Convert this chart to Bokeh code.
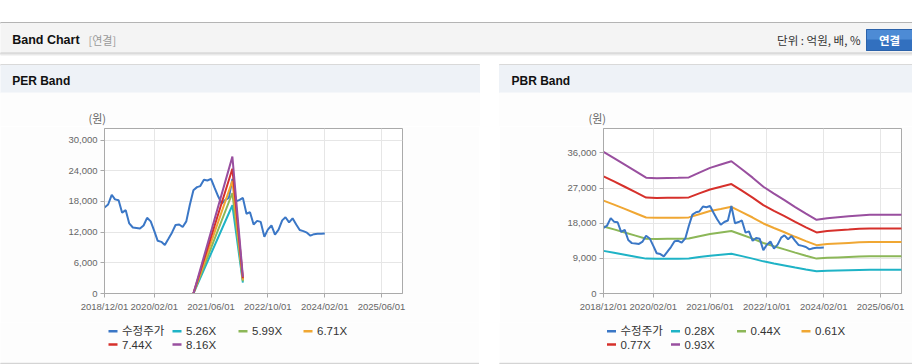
import pandas as pd
from datetime import datetime
from bokeh.plotting import figure
from bokeh.layouts import column, row
from bokeh.models import Range1d, FixedTicker, DatetimeTickFormatter, NumeralTickFormatter, Spacer
from bokeh.core.properties import value
from bokeh.embed import file_html
from bokeh.resources import INLINE

# ---------------- data ----------------
price_dates = pd.date_range("2018-12-01", periods=63, freq="MS")
price = [16800, 17400, 19300, 18400, 18250, 15800, 16300, 13700, 12900, 12800,
         12700, 13300, 14800, 14100, 12200, 10300, 10100, 9500, 10700, 11900,
         13400, 13500, 13000, 14100, 17300, 20200, 20800, 21000, 22250, 22100,
         22400, 20700, 19000, 17600, 18300, 18700, 22400, 18000, 18300, 18700,
         15600, 15900, 13500, 14200, 14000, 11100, 12500, 13300, 11500, 12500,
         14300, 14900, 13900, 14700, 13500, 12400, 12200, 11900, 11300, 11600,
         11700, 11700, 11750]

eps_dates = pd.to_datetime(["2021-01-01", "2021-12-01", "2022-03-01"])
eps = [0, 3280, 400]
per_multiples = [5.26, 5.99, 6.71, 7.44, 8.16]

bps_dates = pd.date_range("2018-12-01", periods=29, freq="3MS")
bps = [38980, 37300, 35500, 33700, 31900, 31750, 31800, 31850, 31950, 33300,
       34600, 35500, 36400, 34200, 31900, 29400, 27500, 25700, 23800, 22000,
       20300, 20750, 21000, 21250, 21500, 21650, 21650, 21650, 21650]
pbr_multiples = [0.28, 0.44, 0.61, 0.77, 0.93]

price_name = "수정주가"
per_names = ["5.26X", "5.99X", "6.71X", "7.44X", "8.16X"]
pbr_names = ["0.28X", "0.44X", "0.61X", "0.77X", "0.93X"]

x_tick_dates = ["2018-12-01", "2020-02-01", "2021-06-01", "2022-10-01", "2024-02-01", "2025-06-01"]
per_y_ticks = [0, 6000, 12000, 18000, 24000, 30000]
pbr_y_ticks = [0, 9000, 18000, 27000, 36000]

# ---------------- styles ----------------
BLUE = "#3b77c6"
BAND_COLORS = ["#1fb3c6", "#8cb758", "#f0a733", "#d6302b", "#994f9f"]
LATIN = "'Liberation Sans', 'Noto Sans CJK KR'"
KR = "'Noto Sans CJK KR'"
PANEL_BG = "#fdfdfd"

X0 = datetime(2018, 12, 1)
X1 = datetime(2025, 11, 28)

W_L, GAP, W_R = 479, 20, 413
H_TOP, H_CH, H_LEG = 126, 196, 42


def base_fig(w, h):
    f = figure(width=w, height=h, x_range=Range1d(0, w), y_range=Range1d(h, 0),
               output_backend="svg", toolbar_location=None, min_border=0,
               x_axis_type=None, y_axis_type=None)
    f.outline_line_color = None
    f.grid.visible = False
    f.background_fill_color = "white"
    f.border_fill_color = "white"
    return f


# ---------------- header ----------------
H = base_fig(912, H_TOP)
H.quad(left=[-5], right=[917], top=[22], bottom=[23], color="#b4b4b4")
H.quad(left=[-5], right=[917], top=[23], bottom=[52.5], color="#f4f4f4")
H.quad(left=[-5], right=[917], top=[52.5], bottom=[53.5], color="#cdcdcd")
H.quad(left=[-5], right=[917], top=[53.5], bottom=[54.5], color="#e9e9e9")
for l, r in [(-5, 479), (499, 917)]:
    H.quad(left=[l], right=[r], top=[64], bottom=[65], color="#d9d9d9")
    H.quad(left=[l], right=[r], top=[65], bottom=[92.5], color="#eef2f7")
    H.quad(left=[l], right=[r], top=[92.5], bottom=[H_TOP + 1], color=PANEL_BG)
# button
H.quad(left=[866], right=[917], top=[29], bottom=[39.5], color="#4d8bd5")
H.quad(left=[866], right=[917], top=[39.5], bottom=[50], color="#3270bf")
H.quad(left=[866], right=[917], top=[29], bottom=[50], fill_color=None, line_color="#2b62aa")
H.text(x=[11.7], y=[39], text=["Band Chart"], text_font=value("Liberation Sans"),
       text_font_style="bold", text_font_size=value("12.5px"), text_color="#111111",
       text_baseline="middle")
H.text(x=[88], y=[39], text=["[연결]"], text_font=value(KR), text_font_size=value("11px"),
       text_color="#999999", text_baseline="middle")
H.text(x=[860], y=[39], text=["단위 : 억원, 배, %"], text_font=value(KR),
       text_font_size=value("11.5px"), text_color="#333333", text_baseline="middle",
       text_align="right")
H.text(x=[889], y=[39.5], text=["연결"], text_font=value(KR), text_font_style="bold",
       text_font_size=value("11.5px"), text_color="white", text_baseline="middle",
       text_align="center")
H.text(x=[11.7, 511], y=[80, 80], text=["PER Band", "PBR Band"], text_font=value("Liberation Sans"),
       text_font_style="bold", text_font_size=value("12px"), text_color="#111111",
       text_baseline="middle")
H.text(x=[88, 588], y=[117.5, 117.5], text=["(원)", "(원)"], text_font=value(KR),
       text_font_size=value("11px"), text_color="#666666", text_baseline="middle")


# ---------------- charts ----------------
def chart(w, left, right, frame_h, ymax, yticks):
    top = 2
    p = figure(width=w, height=H_CH, x_axis_type="datetime", x_range=Range1d(X0, X1),
               y_range=Range1d(0, ymax), output_backend="svg", toolbar_location=None,
               min_border_left=left, min_border_right=right, min_border_top=top,
               min_border_bottom=H_CH - top - frame_h)
    p.xaxis.ticker = FixedTicker(ticks=[pd.Timestamp(d).value // 10**6 for d in x_tick_dates])
    p.xaxis.formatter = DatetimeTickFormatter(days="%Y/%m/%d", months="%Y/%m/%d",
                                              years="%Y/%m/%d")
    p.yaxis.ticker = FixedTicker(ticks=yticks)
    p.yaxis.formatter = NumeralTickFormatter(format="0,0")
    p.axis.major_label_text_font = LATIN
    p.axis.major_label_text_font_size = "9.5px"
    p.axis.major_label_text_color = "#666666"
    p.axis.axis_line_color = "#aaaaaa"
    p.axis.major_tick_line_color = "#aaaaaa"
    p.axis.major_tick_out = 4
    p.axis.major_tick_in = 0
    p.axis.minor_tick_line_color = None
    p.axis.major_label_standoff = 3
    p.outline_line_color = "#aaaaaa"
    p.grid.grid_line_color = "#e6e6e6"
    p.background_fill_color = "white"
    p.border_fill_color = PANEL_BG
    return p


per = chart(W_L, 104, W_L - 104 - 298, 167, 32260, per_y_ticks)
per.line(price_dates, price, color=BLUE, line_width=2)
for m, c in zip(per_multiples, BAND_COLORS):
    per.line(eps_dates, [m * e for e in eps], color=c, line_width=2)

pbr = chart(W_R, 104, W_R - 104 - 298, 165, 42250, pbr_y_ticks)
for m, c in zip(pbr_multiples, BAND_COLORS):
    pbr.line(bps_dates, [m * b for b in bps], color=c, line_width=2)
pbr.line(price_dates, price, color=BLUE, line_width=2)


# ---------------- legends ----------------
def legend(w, col_x, names, colors):
    L = base_fig(w, H_LEG)
    L.background_fill_color = PANEL_BG
    L.border_fill_color = PANEL_BG
    L.quad(left=[-5], right=[w + 5], top=[H_LEG - 1.2], bottom=[H_LEG + 1], color="#d2d2d2")
    rows_y = [8.7, 22]
    xs0, xs1, ys, tx = [], [], [], []
    for i in range(len(names)):
        x = col_x[i % 4]
        y = rows_y[i // 4]
        xs0.append(x)
        xs1.append(x + 9)
        ys.append(y)
        tx.append(x + 13.5)
    L.segment(x0=xs0, y0=ys, x1=xs1, y1=ys, line_color=colors, line_width=2.5)
    L.text(x=tx, y=ys, text=names, text_font=value(LATIN), text_font_size=value("11.5px"),
           text_color="#333333", text_baseline="middle")
    return L


leg_l = legend(W_L, [108, 172, 238, 303], [price_name] + per_names, [BLUE] + BAND_COLORS)
leg_r = legend(W_R, [107.5, 171.5, 237.5, 302], [price_name] + pbr_names, [BLUE] + BAND_COLORS)

layout = column(H,
                row(per, Spacer(width=GAP, height=H_CH), pbr),
                row(leg_l, Spacer(width=GAP, height=H_LEG), leg_r))

open("out.html", "w").write(file_html(layout, INLINE))
